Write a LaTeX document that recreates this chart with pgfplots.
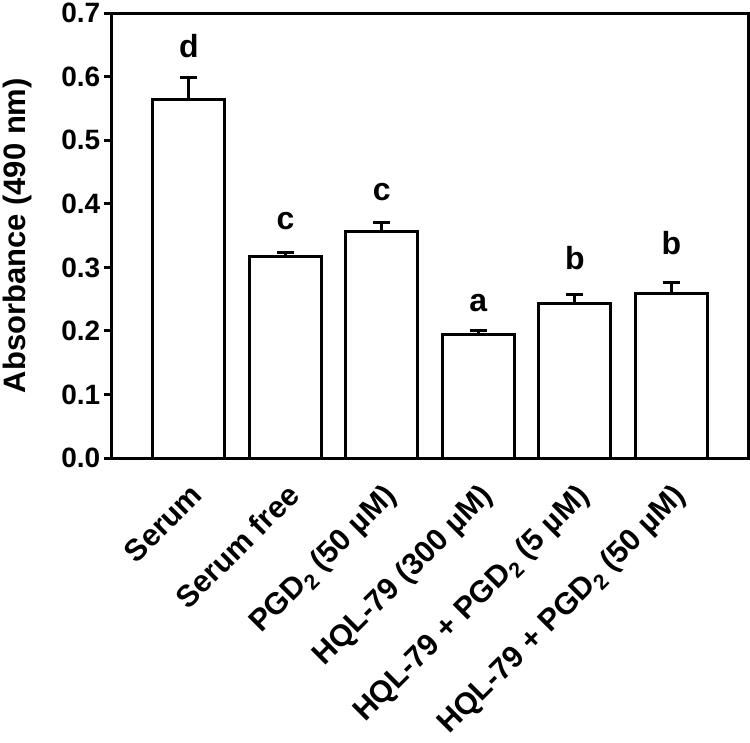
\documentclass[border=0pt]{standalone}
\usepackage{fontspec}
\setmainfont{Liberation Sans}
\usepackage{pgfplots}
\pgfplotsset{compat=1.18}
\pgfplotstableread{
x y e
0 0.565 0.034
1 0.317 0.006
2 0.357 0.013
3 0.194 0.007
4 0.244 0.013
5 0.2585 0.018
}\absdata
\begin{document}
\begin{tikzpicture}
\begin{axis}[
  scale only axis, width=637pt, height=445pt,
  xmin=-0.8, xmax=5.8, ymin=0, ymax=0.7,
  axis line style={line width=3pt},
  xtick=data,
  xticklabels={Serum, Serum free, {PGD\textsubscript{2} (50 µM)}, {HQL-79 (300 µM)}, {HQL-79 + PGD\textsubscript{2} (5 µM)}, {HQL-79 + PGD\textsubscript{2} (50 µM)}},
  x tick style={draw=none},
  ytick={0,0.1,0.2,0.3,0.4,0.5,0.6,0.7},
  ytick pos=left, tick align=outside, major tick length=8pt,
  y tick style={line width=3pt, black},
  tick label style={font=\fontsize{28}{33}\selectfont\bfseries},
  /pgf/number format/assume math mode=true,
  yticklabel style={/pgf/number format/.cd, fixed, fixed zerofill, precision=1},
  xticklabel style={rotate=45, anchor=north east, inner sep=2pt, yshift=-9pt, xshift=-9pt, font=\fontsize{30.5}{35}\selectfont\bfseries},
  ylabel={Absorbance (490 nm)},
  every axis y label/.style={at={(axis description cs:-0.1476,0.5)}, rotate=90, anchor=center, font=\fontsize{31}{36}\selectfont\bfseries},
  clip=false,
]
\addplot[ybar, bar width=72pt, draw=black, fill=white, line width=3pt,
  error bars/.cd, y dir=plus, y explicit,
  error mark=|,
  error bar style={line width=3pt, black},
  error mark options={mark size=8.5pt, line width=3pt, black}]
  table[x=x, y=y, y error=e] {\absdata};
\begin{scope}[every node/.style={anchor=base, font=\fontsize{32}{36}\selectfont\bfseries}]
\node at (axis cs:0,0.630) {d};
\node at (axis cs:1,0.359) {c};
\node at (axis cs:2,0.406) {c};
\node at (axis cs:3,0.230) {a};
\node at (axis cs:4,0.296) {b};
\node at (axis cs:5,0.320) {b};
\end{scope}
\end{axis}
\end{tikzpicture}
\end{document}
